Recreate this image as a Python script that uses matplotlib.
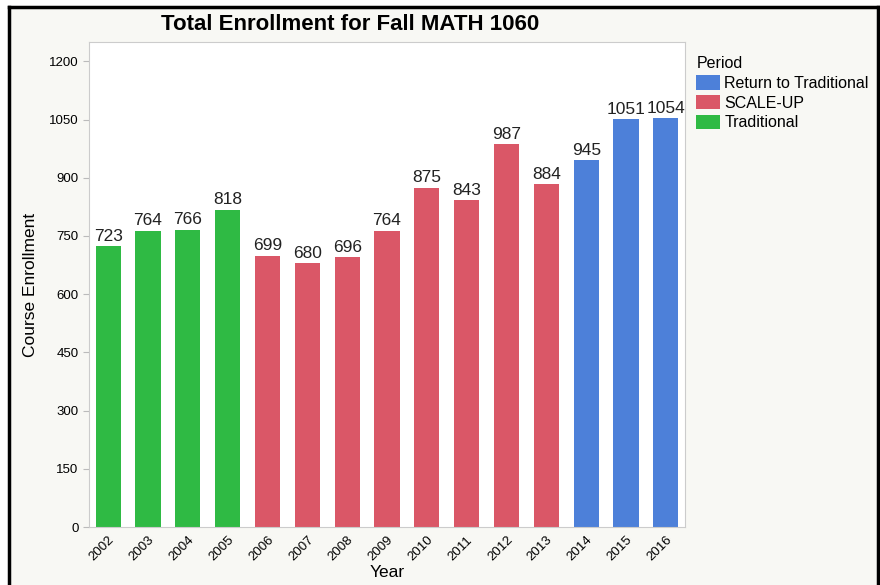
import matplotlib.pyplot as plt
from matplotlib.patches import Rectangle, Patch

plt.rcParams['font.family'] = ['Liberation Sans', 'DejaVu Sans']

years = ['2002', '2003', '2004', '2005', '2006', '2007', '2008', '2009',
         '2010', '2011', '2012', '2013', '2014', '2015', '2016']
enrollment = [723, 764, 766, 818, 699, 680, 696, 764, 875, 843, 987, 884, 945, 1051, 1054]
period = ['Traditional'] * 4 + ['SCALE-UP'] * 8 + ['Return to Traditional'] * 3

colors = {'Return to Traditional': '#4d80d9',
          'SCALE-UP': '#da5767',
          'Traditional': '#2fba44'}
legend_order = ['Return to Traditional', 'SCALE-UP', 'Traditional']

fig = plt.figure(figsize=(8.8, 5.85), dpi=100, facecolor='white')
# off-white panel with black frame
fig.add_artist(Rectangle((9 / 880, 0), 869 / 880, 1 - 7 / 585,
                         transform=fig.transFigure, facecolor='#f8f8f4',
                         edgecolor='none', zorder=-5))
for xs, ys in [([9, 9], [0, 7]), ([878, 878], [0, 7]), ([9, 878], [7, 7])]:
    fig.add_artist(plt.Line2D([v / 880 for v in xs],
                              [1 - (585 if v == 0 else v) / 585 for v in ys],
                              color='black', lw=2.5, transform=fig.transFigure, zorder=-4))

ax = fig.add_axes([89 / 880, 1 - 527 / 585, 596 / 880, 485 / 585])
ax.set_zorder(2)
ax.set_facecolor('white')

x = range(len(years))
ax.bar(x, enrollment, width=0.63, color=[colors[p] for p in period])
for xi, v in zip(x, enrollment):
    ax.text(xi, v + 6, str(v), ha='center', va='bottom', fontsize=12.5, color='#222222')

ax.set_xlim(-0.48, len(years) - 0.52)
ax.set_ylim(0, 1250)
ax.set_yticks(range(0, 1201, 150))
ax.set_xticks(list(x))
ax.set_xticklabels(years, rotation=45, ha='right', rotation_mode='anchor', fontsize=9.5)
ax.tick_params(axis='y', labelsize=9.5, length=4, color='#bbbbbb')
ax.tick_params(axis='x', length=0, pad=5)
for s in ax.spines.values():
    s.set_color('#cccccc')

ax.set_xlabel('Year', fontsize=12.5, labelpad=1)
ax.set_ylabel('Course Enrollment', fontsize=12.5, labelpad=8)
fig.text(350 / 880, 1 - 25 / 585, 'Total Enrollment for Fall MATH 1060', ha='center', va='center',
         fontsize=16, fontweight='bold')

handles = [Patch(facecolor=colors[p], edgecolor='none') for p in legend_order]
leg = fig.legend(handles, legend_order, title='Period', loc='upper left',
                 bbox_to_anchor=(690 / 880, 1 - 50 / 585), frameon=False,
                 fontsize=11.5, title_fontsize=11.5, handlelength=1.5, handleheight=1.0,
                 handletextpad=0.25, labelspacing=0.25, borderaxespad=0)
leg._legend_box.align = 'left'

fig.savefig('out.png', dpi=100, facecolor=fig.get_facecolor())
